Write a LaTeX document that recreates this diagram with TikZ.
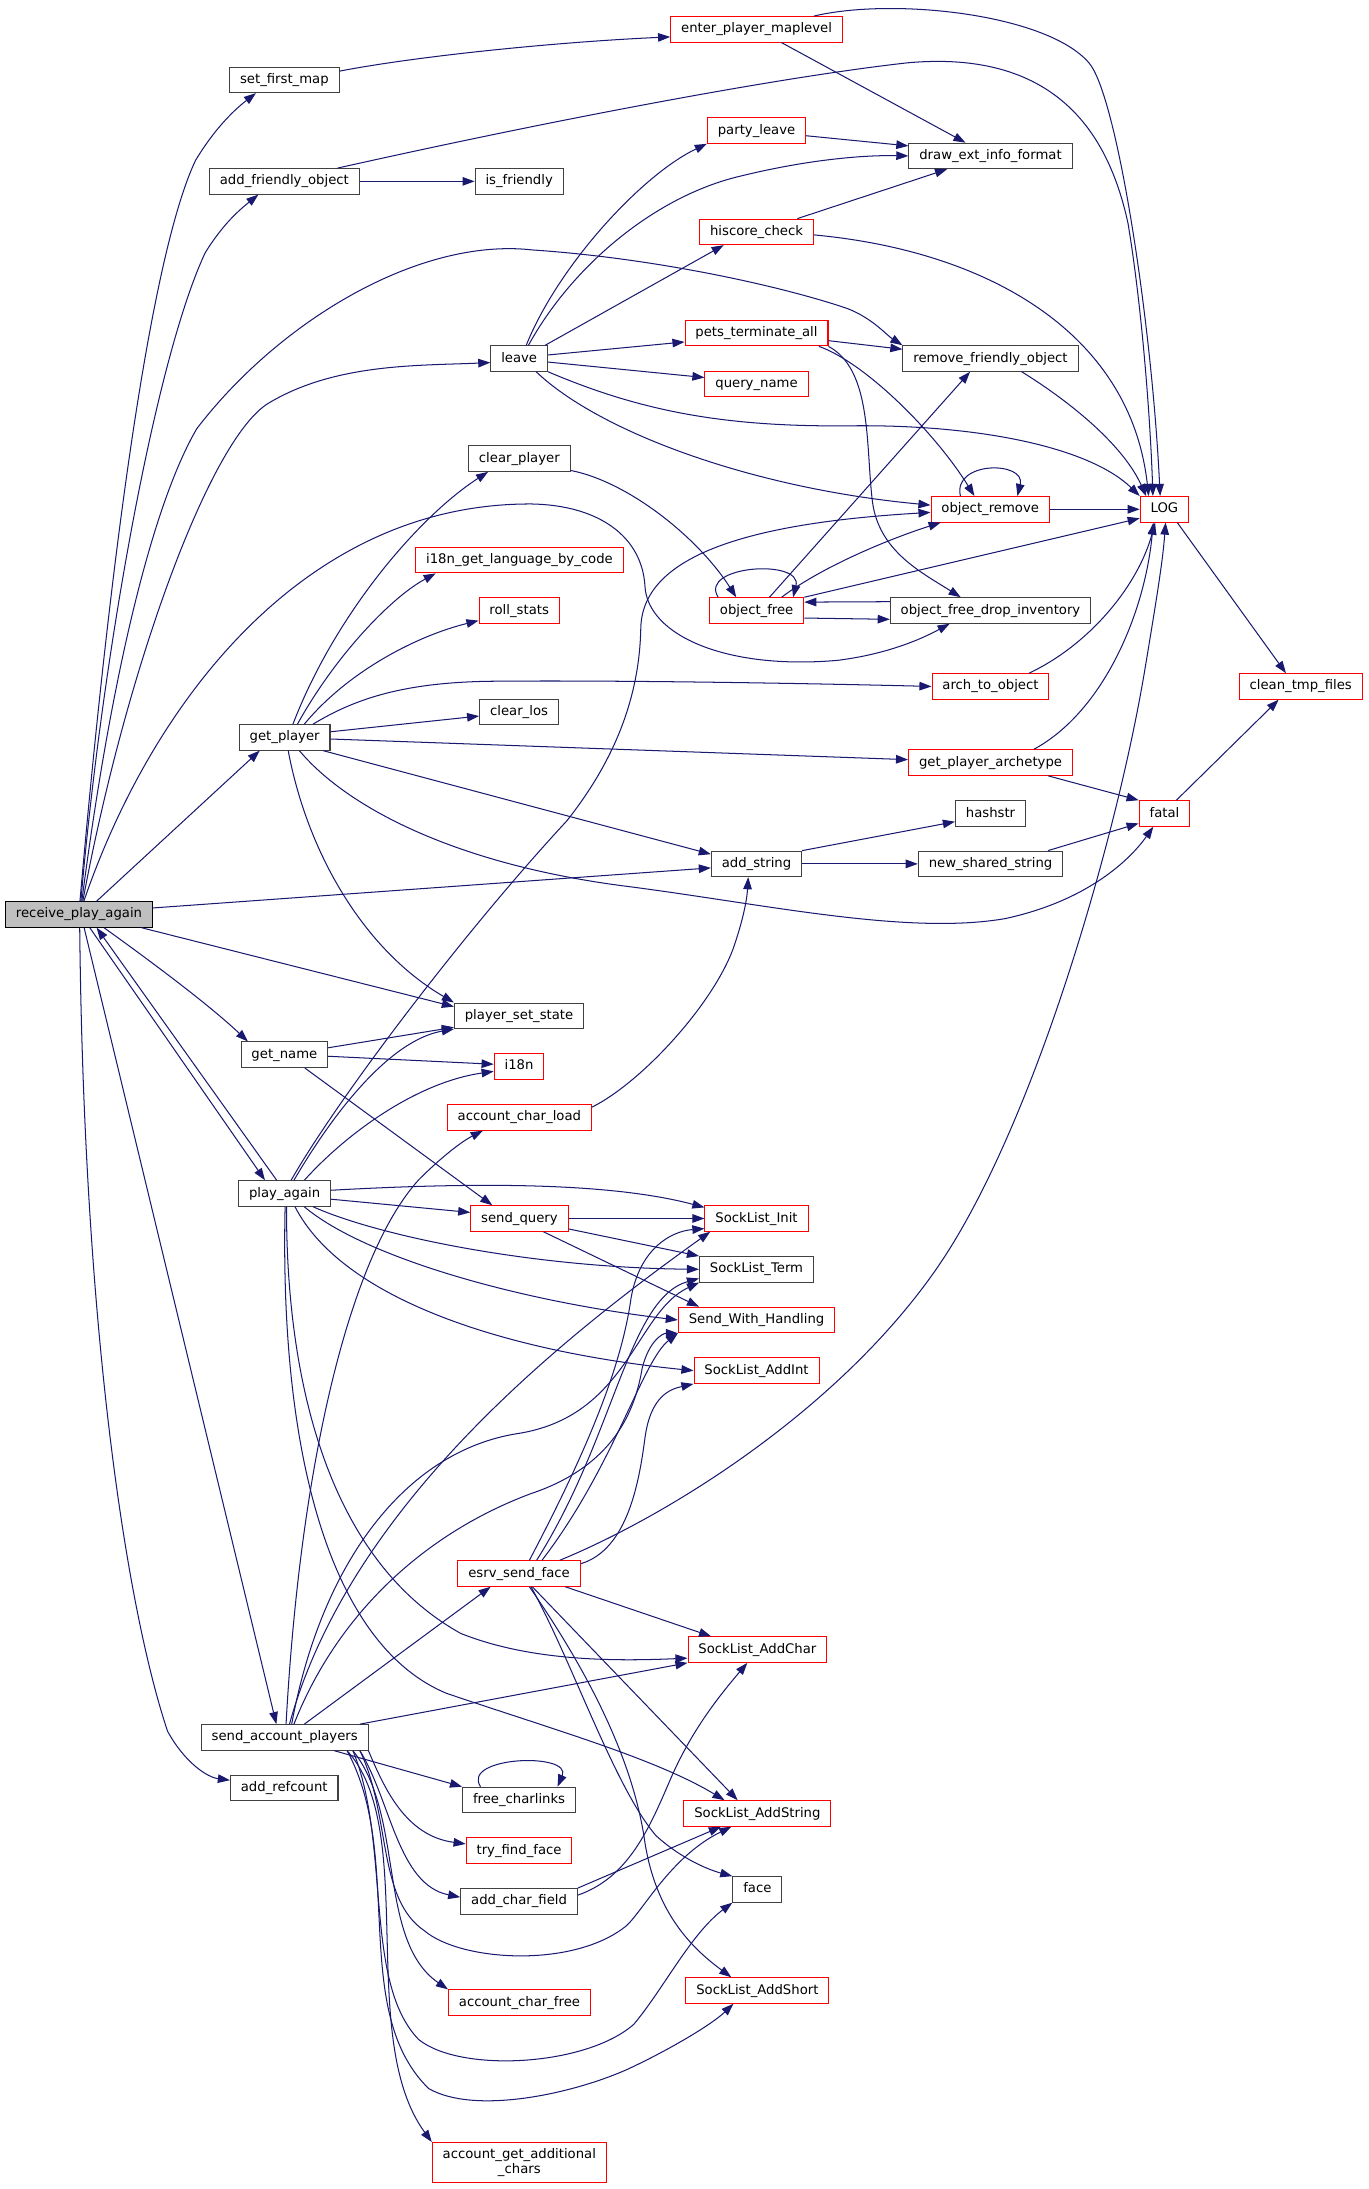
\documentclass[tikz,border=0pt]{standalone}
\usepackage{fontspec}
\setmainfont{DejaVu Sans}
\usetikzlibrary{arrows.meta}
\definecolor{edgeblue}{HTML}{191970}
\definecolor{boxgray}{HTML}{404040}
\definecolor{rootfill}{HTML}{BFBFBF}
\tikzset{
  fnbase/.style={line width=0.55pt, fill=white, inner xsep=5.6pt, inner ysep=0pt, font=\fontsize{7.1pt}{8.4pt}\selectfont},
  fn/.style={fnbase, draw=boxgray, minimum height=13.7pt, text height=5.4pt, text depth=1.6pt},
  fnred/.style={fn, draw=red},
  fnroot/.style={fn, draw=black, fill=rootfill},
  fnredtwo/.style={fnbase, draw=red, minimum height=21.6pt, align=center},
  call/.style={draw=edgeblue, line width=0.55pt, -{Triangle[length=6.5pt,width=4.6pt]}},
}
\begin{document}
\begin{tikzpicture}[x=0.75pt,y=0.75pt,yscale=-1,xscale=1]
\useasboundingbox[fill=white] (0,0) rectangle (980,1568);

%Shapes
\node[fnroot] (receive) at (56.6,655) {receive\_play\_again};
\node[fn] (setmap) at (203.7,57.2) {set\_first\_map};
\node[fn] (addfriend) at (203.7,129.9) {add\_friendly\_object};
\node[fn] (getplayer) at (203.9,528.2) {get\_player};
\node[fn] (getname) at (203.7,755.5) {get\_name};
\node[fn] (playagain) at (203.9,854.9) {play\_again};
\node[fn] (sendacc) at (203.9,1244.5) {send\_account\_players};
\node[fn] (addref) at (203.6,1280.6) {add\_refcount};

\node[fn] (isfriendly) at (371.9,129.9) {is\_friendly};
\node[fn] (leave) at (371.9,256.8) {leave};
\node[fn] (clearplayer) at (372,328.5) {clear\_player};
\node[fnred] (i18ncode) at (372.1,401.2) {i18n\_get\_language\_by\_code};
\node[fnred] (rollstats) at (371.9,437.3) {roll\_stats};
\node[fn] (clearlos) at (371.8,509.9) {clear\_los};
\node[fn] (setstate) at (371.8,727.6) {player\_set\_state};
\node[fnred] (i18n) at (371.8,763.9) {i18n};
\node[fnred] (charload) at (372,800.4) {account\_char\_load};
\node[fnred] (sendquery) at (372.1,872.8) {send\_query};
\node[fnred] (sendface) at (371.8,1127.1) {esrv\_send\_face};
\node[fn] (freelinks) at (371.8,1289.3) {free\_charlinks};
\node[fnred] (findface) at (371.8,1325.5) {try\_find\_face};
\node[fn] (charfield) at (371.8,1361.9) {add\_char\_field};
\node[fnred] (charfree) at (372.1,1434.5) {account\_char\_free};
\node[fnredtwo] (addchars) at (372,1549.1) {account\_get\_additional\\\_chars};

\node[fnred] (enterlevel) at (541.9,21) {enter\_player\_maplevel};
\node[fnred] (partyleave) at (541.9,93.5) {party\_leave};
\node[fnred] (hiscore) at (541.9,166.1) {hiscore\_check};
\node[fnred] (petsterm) at (541.9,238.6) {pets\_terminate\_all};
\node[fnred] (queryname) at (541.9,275) {query\_name};
\node[fnred] (objfree) at (542,437.3) {object\_free};
\node[fn] (addstring) at (541.9,618.8) {add\_string};
\node[fnred] (slinit) at (541.9,872.8) {SockList\_Init};
\node[fn] (slterm) at (541.9,909.2) {SockList\_Term};
\node[fnred] (sendwith) at (541.9,945.5) {Send\_With\_Handling};
\node[fnred] (sladdint) at (541.9,981.8) {SockList\_AddInt};
\node[fnred] (sladdchar) at (542.5,1181.6) {SockList\_AddChar};
\node[fnred] (sladdstring) at (542.5,1299) {SockList\_AddString};
\node[fn] (face) at (542.5,1353.4) {face};
\node[fnred] (sladdshort) at (542.5,1425.8) {SockList\_AddShort};

\node[fn] (drawext) at (709.5,111.7) {draw\_ext\_info\_format};
\node[fn] (removefriend) at (709.5,256.8) {remove\_friendly\_object};
\node[fnred] (objremove) at (709.3,364.8) {object\_remove};
\node[fn] (dropinv) at (709.5,437.3) {object\_free\_drop\_inventory};
\node[fnred] (archobj) at (709.5,491.7) {arch\_to\_object};
\node[fnred] (playerarch) at (709.5,546.2) {get\_player\_archetype};
\node[fn] (hashstr) at (709.5,582.7) {hashstr};
\node[fn] (newshared) at (709.5,618.8) {new\_shared\_string};

\node[fnred] (log) at (834.1,364.8) {LOG};
\node[fnred] (fatal) at (834.1,582.7) {fatal};
\node[fnred] (cleantmp) at (931.7,491.7) {clean\_tmp\_files};

%Straight Lines
\draw[call] (receive.37) -- (getplayer.208);
\draw[call] (receive.5) -- (addstring.185);
\draw[call] (receive.348) -- (setstate.172);
\draw[call] (receive.309) -- (playagain.146);
\draw[call] (playagain.121) -- (receive.323);
\draw[call] (receive.291) -- (sendacc.122);
\draw[call] (addfriend.east) -- (isfriendly.west);
\draw[call] (enterlevel.332) -- (drawext.152);
\draw[call] (partyleave.354) -- (drawext.173);
\draw[call] (hiscore.18) -- (drawext.197);
\draw[call] (leave.27) -- (hiscore.202);
\draw[call] (leave.7) -- (petsterm.187);
\draw[call] (leave.353) -- (queryname.173);
\draw[call] (petsterm.354) -- (removefriend.174);
\draw[call] (objremove.east) -- (log.west);
\draw[call] (objfree.46) -- (removefriend.213);
\draw[call] (objfree.north east) -- (log.200);
\draw[call] (objfree.351) -- (dropinv.185);
\draw[call] (dropinv.175) -- (objfree.10);
\draw[call] (getplayer.7) -- (clearlos.186);
\draw[call] (getplayer.358) -- (playerarch.178);
\draw[call] (getplayer.341) -- (addstring.168);
\draw[call] (getname.9) -- (setstate.190);
\draw[call] (getname.358) -- (i18n.175);
\draw[call] (getname.327) -- (sendquery.154);
\draw[call] (playagain.353) -- (sendquery.173);
\draw[call] (sendquery.east) -- (slinit.west);
\draw[call] (sendquery.348) -- (slterm.north west);
\draw[call] (sendquery.331) -- (sendwith.167);
\draw[call] (sendface.344) -- (sladdchar.164);
\draw[call] (sendface.315) -- (sladdstring.146);
\draw[call] (sendacc.34) -- (sendface.205);
\draw[call] (sendacc.10) -- (sladdchar.south west);
\draw[call] (sendacc.345) -- (freelinks.north west);
\draw[call] (charfield.north east) -- (sladdstring.200);
\draw[call] (addstring.north east) -- (hashstr.193);
\draw[call] (addstring.east) -- (newshared.west);
\draw[call] (newshared.13) -- (fatal.201);
\draw[call] (playerarch.347) -- (fatal.north west);
\draw[call] (log.314) -- (cleantmp.138);
\draw[call] (fatal.48) -- (cleantmp.211);

%Curve Lines
\draw[call] (receive.86) .. controls (70,500) and (100,200) .. (140,115) .. controls (155,90) and (170,77) .. (setmap.205);
\draw[call] (receive.82) .. controls (72,480) and (110,260) .. (147,181) .. controls (160,160) and (172,150) .. (addfriend.207);
\draw[call] (receive.78) .. controls (80,480) and (110,360) .. (141,307) .. controls (200,230) and (300,170) .. (381,179) .. controls (470,185) and (560,205) .. (607,221) .. controls (625,228) and (635,240) .. (removefriend.north west);
\draw[call] (receive.74) .. controls (90,480) and (150,315) .. (192,289) .. controls (240,260) and (300,262) .. (leave.188);
\draw[call] (receive.70) .. controls (110,500) and (220,360) .. (381,361) .. controls (430,362) and (460,385) .. (462,420) .. controls (464,455) and (520,480) .. (600,473) .. controls (640,468) and (665,455) .. (dropinv.198);
\draw[call] (receive.273) .. controls (60,950) and (90,1150) .. (120,1240) .. controls (132,1262) and (148,1273) .. (addref.172);
\draw[call] (receive.332) .. controls (110,690) and (150,720) .. (getname.160);

\draw[call] (setmap.9) .. controls (300,40) and (400,30) .. (enterlevel.185);
\draw[call] (addfriend.14) .. controls (400,85) and (560,55) .. (650,45) .. controls (760,35) and (795,100) .. (808,160) .. controls (818,220) and (824,300) .. (log.131);
\draw[call] (enterlevel.13) .. controls (640,-2) and (750,10) .. (780,45) .. controls (800,68) and (825,230) .. (log.108);
\draw[call] (hiscore.357) .. controls (710,180) and (810,240) .. (log.140);

\draw[call] (leave.62) .. controls (400,190) and (460,125) .. (partyleave.south west);
\draw[call] (leave.55) .. controls (410,190) and (470,140) .. (531,126) .. controls (580,114) and (620,111) .. (drawext.west);
\draw[call] (leave.south east) .. controls (460,295) and (520,306) .. (610,305) .. controls (700,304) and (780,320) .. (log.north west);
\draw[call] (leave.322) .. controls (430,310) and (540,350) .. (objremove.176);
\draw[call] (petsterm.348) .. controls (620,260) and (670,310) .. (objremove.140);
\draw[call] (petsterm.south east) .. controls (625,265) and (620,320) .. (625,360) .. controls (630,395) and (660,410) .. (dropinv.156);
\draw[call] (removefriend.337) .. controls (770,290) and (805,320) .. (log.144);
\draw[call] (objremove.156) .. controls (682,330) and (735,330) .. (objremove.26);

\draw[call] (clearplayer.347) .. controls (450,345) and (500,385) .. (objfree.147);
\draw[call] (objfree.161) .. controls (500,405) and (575,400) .. (objfree.20);
\draw[call] (objfree.28) .. controls (590,405) and (640,385) .. (objremove.195);

\draw[call] (getplayer.58) .. controls (240,440) and (300,370) .. (clearplayer.203);
\draw[call] (getplayer.46) .. controls (240,470) and (280,428) .. (i18ncode.189);
\draw[call] (getplayer.34) .. controls (250,480) and (300,455) .. (rollstats.194);
\draw[call] (getplayer.25) .. controls (255,500) and (290,489) .. (350,488) .. controls (450,487) and (600,490) .. (archobj.west);
\draw[call] (getplayer.318) .. controls (250,580) and (330,620) .. (450,635) .. controls (550,648) and (650,670) .. (720,658) .. controls (780,645) and (810,615) .. (fatal.230);
\draw[call] (getplayer.285) .. controls (220,610) and (260,680) .. (setstate.north west);
\draw[call] (playerarch.17) .. controls (790,510) and (820,440) .. (log.230);
\draw[call] (archobj.19) .. controls (780,462) and (815,420) .. (log.235);
\draw[call] (charload.8) .. controls (460,775) and (510,720) .. (525,680) .. controls (532,660) and (535,645) .. (addstring.238);

\draw[call] (playagain.64) .. controls (240,790) and (330,670) .. (406,588) .. controls (440,545) and (458,500) .. (459,450) .. controls (460,400) and (530,375) .. (objremove.183);
\draw[call] (playagain.55) .. controls (240,795) and (280,745) .. (setstate.south west);
\draw[call] (playagain.34) .. controls (250,810) and (300,775) .. (i18n.191);
\draw[call] (playagain.4) .. controls (320,848) and (430,845) .. (slinit.168);
\draw[call] (playagain.335) .. controls (270,885) and (380,908) .. (slterm.west);
\draw[call] (playagain.326) .. controls (260,900) and (370,932) .. (sendwith.west);
\draw[call] (playagain.308) .. controls (245,930) and (360,968) .. (sladdint.west);
\draw[call] (playagain.278) .. controls (205,1000) and (240,1120) .. (330,1170) .. controls (380,1190) and (440,1190) .. (sladdchar.187);
\draw[call] (playagain.272) .. controls (200,1050) and (240,1180) .. (320,1213) .. controls (400,1240) and (470,1260) .. (sladdstring.158);

\draw[call] (sendface.18) .. controls (480,1085) and (600,1010) .. (670,910) .. controls (740,810) and (800,600) .. (820,480) .. controls (830,420) and (833,400) .. (log.275);
\draw[call] (sendface.52) .. controls (420,1040) and (445,980) .. (452,930) .. controls (458,895) and (480,882) .. (slinit.191);
\draw[call] (sendface.37) .. controls (440,1030) and (450,930) .. (slterm.189);
\draw[call] (sendface.30) .. controls (440,1050) and (460,975) .. (sendwith.south west);
\draw[call] (sendface.9) .. controls (450,1110) and (458,1060) .. (462,1030) .. controls (466,1000) and (480,995) .. (sladdint.south west);
\draw[call] (sendface.312) .. controls (410,1190) and (440,1280) .. (470,1315) .. controls (490,1333) and (510,1340) .. (face.north west);
\draw[call] (sendface.308) .. controls (430,1210) and (455,1270) .. (462,1320) .. controls (470,1370) and (495,1395) .. (sladdshort.153);

\draw[call] (sendacc.84) .. controls (215,1050) and (250,900) .. (300,845) .. controls (315,830) and (330,818) .. (charload.200);
\draw[call] (sendacc.70) .. controls (250,1080) and (400,960) .. (slinit.196);
\draw[call] (sendacc.62) .. controls (230,1120) and (290,1040) .. (370,1027) .. controls (450,1015) and (455,940) .. (slterm.193);
\draw[call] (sendacc.55) .. controls (240,1160) and (300,1100) .. (380,1070) .. controls (440,1050) and (455,1010) .. (460,980) .. controls (465,960) and (475,955) .. (sendwith.south west);
\draw[call] (freelinks.161) .. controls (330,1258) and (410,1255) .. (freelinks.19);
\draw[call] (sendacc.351) .. controls (275,1280) and (290,1315) .. (findface.173);
\draw[call] (sendacc.350) .. controls (280,1290) and (285,1350) .. (charfield.176);
\draw[call] (sendacc.349) .. controls (290,1300) and (270,1390) .. (charfree.north west);
\draw[call] (sendacc.348) .. controls (300,1310) and (255,1460) .. (addchars.north west);
\draw[call] (sendacc.350) .. controls (280,1300) and (270,1360) .. (304,1383) .. controls (330,1405) and (410,1410) .. (448,1380) .. controls (460,1370) and (480,1330) .. (sladdstring.207);
\draw[call] (sendacc.349) .. controls (280,1320) and (260,1420) .. (300,1461) .. controls (330,1485) and (420,1480) .. (454,1450) .. controls (475,1425) and (495,1385) .. (face.south west);
\draw[call] (sendacc.348) .. controls (290,1330) and (250,1440) .. (307,1496) .. controls (340,1515) and (410,1500) .. (450,1482) .. controls (480,1468) and (510,1450) .. (sladdshort.209);
\draw[call] (charfield.6) .. controls (450,1345) and (465,1310) .. (480,1275) .. controls (495,1240) and (515,1215) .. (sladdchar.233);
\end{tikzpicture}
\end{document}
